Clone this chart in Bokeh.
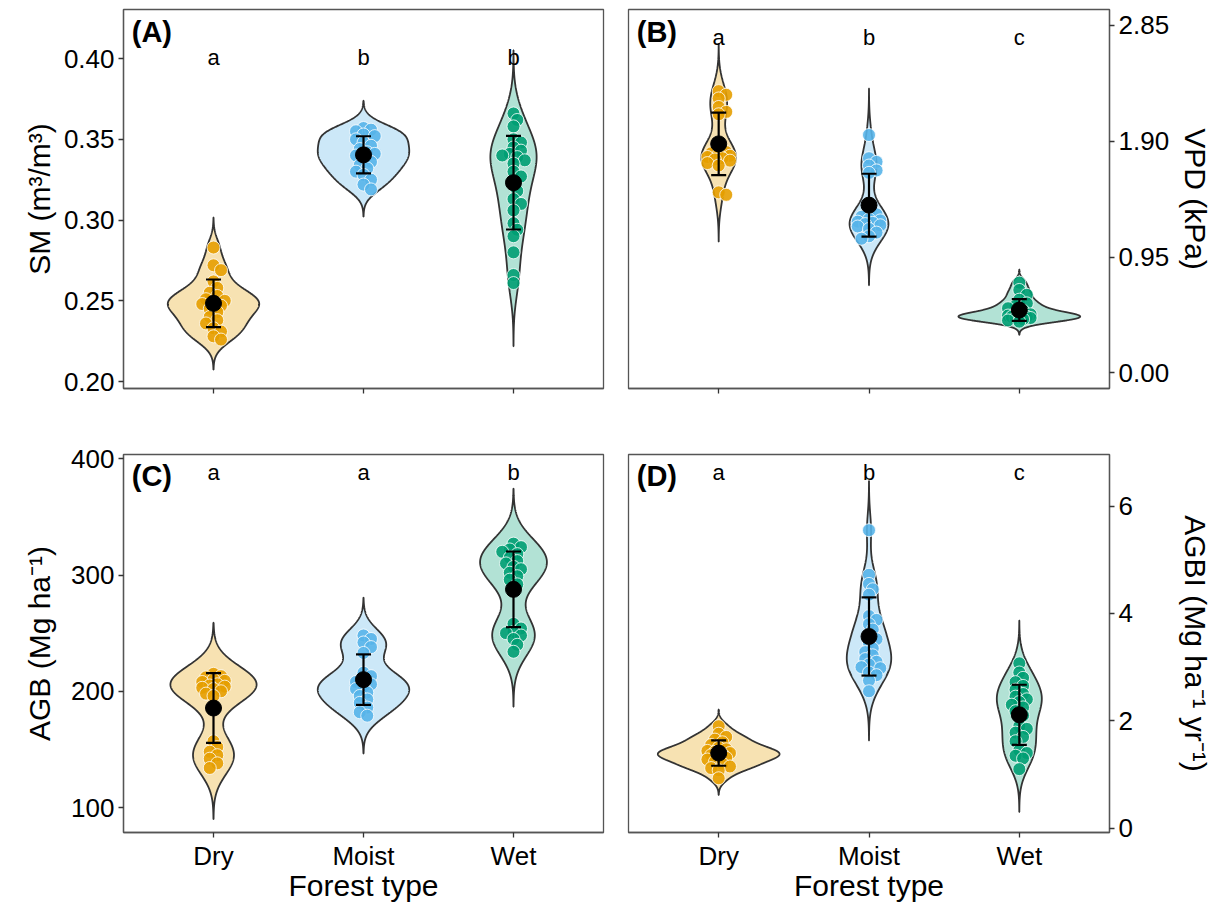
import numpy as np
from bokeh.plotting import figure
from bokeh.layouts import gridplot
from bokeh.models import FixedTicker, Label, Range1d, NumeralTickFormatter
from bokeh.core.properties import value
from bokeh.embed import file_html
from bokeh.resources import INLINE

categories = ["Dry", "Moist", "Wet"]

# (A) soil moisture, m3/m3
sm_dry = [0.283, 0.272, 0.269, 0.262, 0.258, 0.255, 0.253, 0.251, 0.250, 0.249, 0.248,
          0.247, 0.245, 0.243, 0.240, 0.238, 0.236, 0.233, 0.231, 0.228, 0.226]
sm_moist = [0.357, 0.356, 0.355, 0.353, 0.352, 0.350, 0.348, 0.346, 0.344, 0.342, 0.341,
            0.340, 0.338, 0.336, 0.334, 0.332, 0.330, 0.328, 0.325, 0.322, 0.319]
sm_wet = [0.366, 0.362, 0.358, 0.350, 0.348, 0.345, 0.343, 0.341, 0.340, 0.339, 0.337,
          0.335, 0.330, 0.327, 0.322, 0.318, 0.313, 0.310, 0.306, 0.298, 0.294, 0.290,
          0.280, 0.266, 0.261]

# (B) VPD, kPa
vpd_dry = [2.31, 2.28, 2.25, 2.18, 2.14, 2.12, 1.83, 1.81, 1.80, 1.79, 1.78, 1.77, 1.76,
           1.75, 1.74, 1.72, 1.70, 1.48, 1.46]
vpd_moist = [1.95, 1.76, 1.73, 1.70, 1.66, 1.64, 1.32, 1.30, 1.28, 1.26, 1.25, 1.24, 1.23,
             1.22, 1.21, 1.20, 1.18, 1.15, 1.12, 1.10]
vpd_wet = [0.74, 0.68, 0.64, 0.60, 0.57, 0.55, 0.53, 0.51, 0.49, 0.48, 0.47, 0.47, 0.46,
           0.46, 0.46, 0.45, 0.45, 0.44, 0.43, 0.42]

# (C) AGB, Mg/ha
agb_dry = [215, 213, 212, 210, 209, 208, 206, 205, 204, 203, 202, 200, 198, 196,
           157, 152, 148, 145, 142, 138, 134]
agb_moist = [248, 245, 242, 238, 233, 216, 213, 210, 208, 206, 204, 202, 199, 196, 193,
             190, 186, 182, 179]
agb_wet = [327, 324, 322, 320, 318, 315, 312, 310, 307, 305, 302, 299, 296, 292,
           258, 254, 251, 250, 248, 245, 240, 234]

# (D) AGBI, Mg/ha/yr
agbi_dry = [1.90, 1.76, 1.70, 1.65, 1.60, 1.55, 1.50, 1.47, 1.44, 1.42, 1.40, 1.38, 1.36,
            1.34, 1.31, 1.28, 1.24, 1.20, 1.15, 1.12, 1.08, 0.93]
agbi_moist = [5.55, 4.72, 4.55, 4.45, 4.35, 3.95, 3.88, 3.80, 3.70, 3.60, 3.52, 3.45, 3.35,
              3.28, 3.22, 3.15, 3.10, 3.05, 3.00, 2.98, 2.90, 2.85, 2.75, 2.55]
agbi_wet = [3.07, 2.90, 2.80, 2.72, 2.65, 2.58, 2.50, 2.45, 2.40, 2.35, 2.30, 2.25, 2.18,
            2.10, 1.90, 1.85, 1.78, 1.70, 1.62, 1.45, 1.40, 1.35, 1.30, 1.10]

letters_sm = ["a", "b", "b"]
letters_vpd = ["a", "b", "c"]
letters_agb = ["a", "a", "b"]
letters_agbi = ["a", "b", "c"]

ticks_sm = [0.20, 0.25, 0.30, 0.35, 0.40]
ticks_vpd = [0.00, 0.95, 1.90, 2.85]
ticks_agb = [100, 200, 300, 400]
ticks_agbi = [0, 2, 4, 6]

colors = ["#E69F00", "#56B4E9", "#009E73"]
FONT = "Liberation Sans"
BORDER = "#555555"


def bw_nrd0(x):
    x = np.asarray(x, float)
    sd = x.std(ddof=1)
    q75, q25 = np.percentile(x, [75, 25])
    iqr = (q75 - q25) / 1.34
    lo = min(sd, iqr) if iqr > 0 else sd
    return 0.9 * lo * len(x) ** -0.2


def kde(x):
    x = np.asarray(x, float)
    bw = bw_nrd0(x)
    grid = np.linspace(x.min() - 3 * bw, x.max() + 3 * bw, 512)
    d = np.exp(-0.5 * ((grid[:, None] - x[None, :]) / bw) ** 2).sum(1)
    d /= len(x) * bw * np.sqrt(2 * np.pi)
    return grid, d


def swarm(vals, center, ppx, ppy, mind=6.5, step=0.025, maxoff=0.075):
    vals = np.asarray(vals, float)
    order = np.argsort(-vals, kind="stable")
    cands = [0.0]
    k = 1
    while k * step <= maxoff + 1e-9:
        cands += [k * step, -k * step]
        k += 1
    xs = np.zeros(len(vals))
    placed = []
    for i in order:
        best, bestd = 0.0, -1.0
        for c in cands:
            if not placed:
                best = c
                break
            d = min(np.hypot((c - px) * ppx, (vals[i] - py) * ppy) for px, py in placed)
            if d >= mind:
                best = c
                break
            if d > bestd:
                bestd, best = d, c
        xs[i] = center + best
        placed.append((best, vals[i]))
    return xs


def make_panel(groups, letters, ticks, yr, ylab, tag, side, bottom_row, max_hw,
               letter_px, ylab_standoff, fmt=None):
    W = 616
    H = 484 if bottom_row else 420
    if side == "left":
        bl, br = 123, 13
    else:
        bl, br = 12, 123
    bt, bb = (34, 71) if bottom_row else (9, 32)
    p = figure(width=W, height=H, output_backend="svg", toolbar_location=None,
               x_range=Range1d(0.4, 3.6), y_range=Range1d(*yr),
               y_axis_location=side, min_border_left=bl, min_border_right=br,
               min_border_top=bt, min_border_bottom=bb)
    p.grid.visible = False
    p.outline_line_color = BORDER
    p.outline_line_width = 1.3
    p.background_fill_color = "white"
    p.border_fill_color = "white"

    frame_h = H - bt - bb
    ppy = frame_h / (yr[1] - yr[0])
    ppx = (W - bl - br) / 3.2

    dens = [kde(g) for g in groups]
    dmax = max(d.max() for _, d in dens)
    for i, (g, (gy, gd)) in enumerate(zip(groups, dens)):
        c = i + 1
        w = max_hw * gd / dmax
        xs = np.concatenate([c - w, (c + w)[::-1]])
        ys = np.concatenate([gy, gy[::-1]])
        p.patch(xs, ys, fill_color=colors[i], fill_alpha=0.3, line_color="#333333",
                line_width=1.8)
        px = swarm(g, c, ppx, ppy)
        p.scatter(px, g, size=13, fill_color=colors[i], fill_alpha=0.9,
                  line_color="white", line_width=0.8)
        m = float(np.mean(g))
        s = float(np.std(g, ddof=1))
        p.segment([c], [m - s], [c], [m + s], line_color="black", line_width=2.2)
        p.segment([c - 0.05, c - 0.05], [m - s, m + s], [c + 0.05, c + 0.05],
                  [m - s, m + s], line_color="black", line_width=2.2)
        p.scatter([c], [m], size=16, fill_color="black", line_color="black")

    ly = yr[1] - letter_px / ppy
    p.text(x=[1, 2, 3], y=[ly] * 3, text=letters, text_font=value(FONT),
           text_font_size=value("22px"), text_align="center", text_baseline="middle",
           text_color="black")
    p.add_layout(Label(x=0.455, y=yr[1] - 6 / ppy, text=tag, text_font=FONT,
                       text_font_size="29px", text_font_style="bold",
                       text_baseline="top", text_align="left", text_color="black"))

    for ax in (p.xaxis[0], p.yaxis[0]):
        ax.axis_line_color = BORDER
        ax.axis_line_width = 1.3
        ax.major_tick_line_color = "#333333"
        ax.major_tick_line_width = 1.3
        ax.major_tick_out = 5
        ax.major_tick_in = 0
        ax.minor_tick_line_color = None
        ax.major_label_text_font = FONT
        ax.major_label_text_font_size = "26px"
        ax.major_label_text_color = "black"
        ax.axis_label_text_font = FONT
        ax.axis_label_text_font_size = "30px"
        ax.axis_label_text_font_style = "normal"
        ax.axis_label_text_color = "black"
        ax.major_label_standoff = 4

    p.xaxis.ticker = FixedTicker(ticks=[1, 2, 3])
    if bottom_row:
        p.xaxis.major_label_overrides = {1: categories[0], 2: categories[1],
                                         3: categories[2]}
        p.xaxis.major_label_standoff = 3
        p.xaxis.axis_label = "Forest type"
        p.xaxis.axis_label_standoff = -5
    else:
        p.xaxis.major_label_text_font_size = "10px"
        p.xaxis.major_label_text_color = None
    p.yaxis.ticker = FixedTicker(ticks=ticks)
    if fmt:
        p.yaxis.formatter = NumeralTickFormatter(format=fmt)
    p.yaxis.axis_label = ylab
    p.yaxis.axis_label_standoff = ylab_standoff
    return p


pA = make_panel([sm_dry, sm_moist, sm_wet], letters_sm, ticks_sm, (0.1957, 0.4304),
                "SM (m³/m³)", "(A)", "left", False, 0.305, 48, 5, fmt="0.00")
pB = make_panel([vpd_dry, vpd_moist, vpd_wet], letters_vpd, ticks_vpd, (-0.128, 2.979),
                "VPD (kPa)", "(B)", "right", False, 0.405, 28, 7, fmt="0.00")
pC = make_panel([agb_dry, agb_moist, agb_wet], letters_agb, ticks_agb, (78.5, 403.7),
                "AGB (Mg ha⁻¹)", "(C)", "left", True, 0.305, 18, 12)
pD = make_panel([agbi_dry, agbi_moist, agbi_wet], letters_agbi, ticks_agbi, (-0.08, 6.96),
                "AGBI (Mg ha⁻¹ yr⁻¹)", "(D)", "right", True, 0.405, 18, 43)

layout = gridplot([[pA, pB], [pC, pD]], toolbar_location=None)
open("out.html", "w").write(file_html(layout, INLINE))
